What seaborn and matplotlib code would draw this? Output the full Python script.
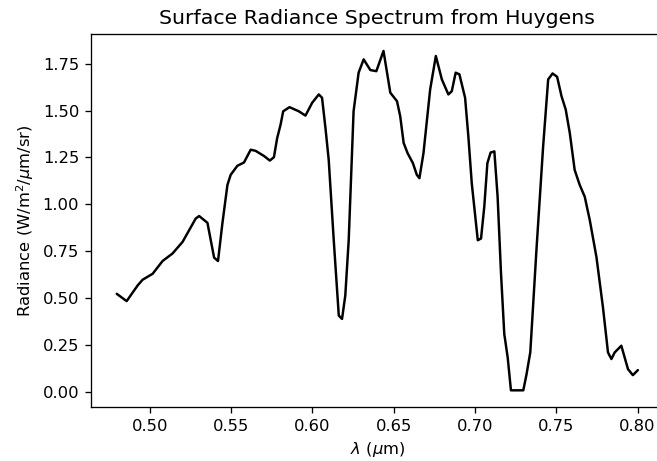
import matplotlib
matplotlib.use("Agg")
import matplotlib.pyplot as plt
import seaborn as sns
import pandas as pd

# Huygens DISR surface radiance spectrum
wavelength_um = [
    0.4796, 0.4857, 0.4925, 0.4955, 0.5017, 0.5078, 0.5139, 0.5201, 0.5282, 0.5303,
    0.5354, 0.5395, 0.5419, 0.5446, 0.5477, 0.5497, 0.5538, 0.5579, 0.5620, 0.5650,
    0.5701, 0.5738, 0.5763, 0.5783, 0.5804, 0.5820, 0.5859, 0.5916, 0.5957, 0.5998,
    0.6039, 0.6059, 0.6080, 0.6100, 0.6131, 0.6162, 0.6182, 0.6202, 0.6223, 0.6253,
    0.6284, 0.6315, 0.6356, 0.6393, 0.6437, 0.6479, 0.6520, 0.6540, 0.6561, 0.6585,
    0.6618, 0.6642, 0.6658, 0.6683, 0.6724, 0.6759, 0.6796, 0.6836, 0.6857, 0.6881,
    0.6904, 0.6939, 0.6959, 0.6980, 0.7017, 0.7037, 0.7057, 0.7076, 0.7096, 0.7119,
    0.7139, 0.7160, 0.7180, 0.7201, 0.7221, 0.7297, 0.7317, 0.7340, 0.7379, 0.7419,
    0.7450, 0.7477, 0.7505, 0.7532, 0.7558, 0.7583, 0.7613, 0.7644, 0.7675, 0.7706,
    0.7747, 0.7787, 0.7818, 0.7839, 0.7859, 0.7900, 0.7941, 0.7971, 0.8002,
]
radiance = [
    0.522, 0.483, 0.567, 0.597, 0.629, 0.697, 0.737, 0.799, 0.924, 0.937,
    0.901, 0.715, 0.697, 0.898, 1.103, 1.157, 1.205, 1.223, 1.291, 1.285,
    1.258, 1.233, 1.251, 1.353, 1.425, 1.496, 1.518, 1.496, 1.473, 1.541,
    1.586, 1.568, 1.407, 1.237, 0.808, 0.406, 0.388, 0.513, 0.808, 1.496,
    1.702, 1.773, 1.716, 1.710, 1.818, 1.595, 1.550, 1.469, 1.327, 1.273,
    1.219, 1.157, 1.139, 1.273, 1.612, 1.791, 1.666, 1.586, 1.603, 1.702,
    1.693, 1.568, 1.362, 1.112, 0.808, 0.817, 0.987, 1.219, 1.276, 1.282,
    1.040, 0.629, 0.308, 0.182, 0.007, 0.007, 0.093, 0.210, 0.772, 1.308,
    1.666, 1.698, 1.680, 1.577, 1.505, 1.380, 1.183, 1.103, 1.040, 0.915,
    0.718, 0.450, 0.209, 0.174, 0.209, 0.245, 0.120, 0.088, 0.115,
]
x_ticks = [0.50, 0.55, 0.60, 0.65, 0.70, 0.75, 0.80]
y_ticks = [0.00, 0.25, 0.50, 0.75, 1.00, 1.25, 1.50, 1.75]

df = pd.DataFrame({"wavelength": wavelength_um, "radiance": radiance})

sns.set_style("ticks")
plt.rcParams["font.family"] = ["DejaVu Sans"]
plt.rcParams["axes.edgecolor"] = "black"
plt.rcParams["xtick.color"] = "black"
plt.rcParams["ytick.color"] = "black"
plt.rcParams["axes.labelcolor"] = "black"
plt.rcParams["text.color"] = "black"
plt.rcParams["savefig.bbox"] = "standard"

DPI = 118
fig = plt.figure(figsize=(657 / DPI, 461 / DPI), dpi=DPI)
# the plot area runs slightly past the right edge of the canvas
ax = fig.add_axes([0.138, 0.1165, 0.8726, 0.8098])

sns.lineplot(data=df, x="wavelength", y="radiance", color="black",
             linewidth=1.5, sort=False, estimator=None, ax=ax)

ax.set_xticks(x_ticks)
ax.set_yticks(y_ticks)
ax.xaxis.set_major_formatter(matplotlib.ticker.FormatStrFormatter("%.2f"))
ax.yaxis.set_major_formatter(matplotlib.ticker.FormatStrFormatter("%.2f"))
ax.tick_params(direction="out", length=3.5, width=0.8, labelsize=10)
for s in ax.spines.values():
    s.set_linewidth(0.8)

ax.set_xlabel(r"$\lambda$ ($\mu$m)", fontsize=10)
ax.set_ylabel(r"Radiance (W/m$^2$/$\mu$m/sr)", fontsize=10)
ax.set_title("Surface Radiance Spectrum from Huygens", fontsize=12.5)

fig.savefig("out.png", dpi=DPI, bbox_inches=fig.bbox_inches)
